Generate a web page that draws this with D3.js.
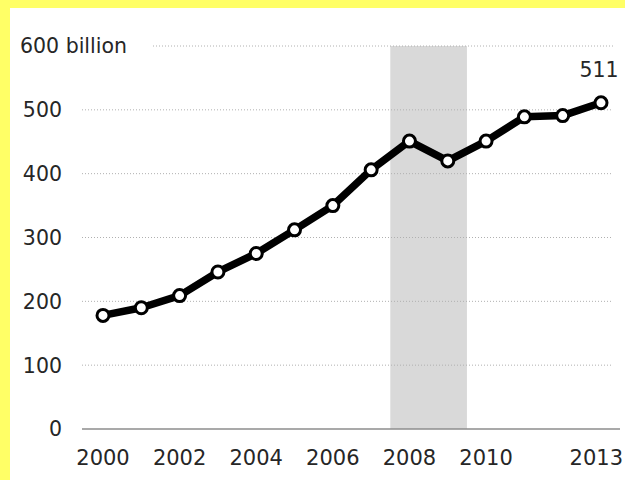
<!DOCTYPE html>
<html>
<head>
<meta charset="utf-8">
<script src="https://cdn.jsdelivr.net/npm/d3@7/dist/d3.min.js"></script>
<style>
  html, body { margin: 0; padding: 0; background: #fff; }
  svg { display: block; }
  text { font-family: "DejaVu Sans", sans-serif; fill: #262626; }
</style>
</head>
<body>
<svg id="chart" width="625" height="480"></svg>
<script>
// Annual totals, in billions
const years  = [2000, 2001, 2002, 2003, 2004, 2005, 2006, 2007, 2008, 2009, 2010, 2011, 2012, 2013];
const values = [178, 190, 209, 246, 275, 312, 350, 406, 451, 420, 451, 489, 491, 511];
const yTicks = [0, 100, 200, 300, 400, 500, 600];
const xTickYears = [2000, 2002, 2004, 2006, 2008, 2010, 2013];
const recession = [2007.5, 2009.5];
const lastLabel = "511";

const svg = d3.select("#chart");

// yellow frame along the top and left edges
svg.append("rect").attr("x", 0).attr("y", 0).attr("width", 625).attr("height", 8).attr("fill", "#ffff66");
svg.append("rect").attr("x", 0).attr("y", 0).attr("width", 10).attr("height", 480).attr("fill", "#ffff66");

const x = d3.scaleLinear().domain([2000, 2013]).range([103, 601]);
const y = d3.scaleLinear().domain([0, 600]).range([429, 46]);

// shaded recession band
svg.append("rect")
  .attr("x", x(recession[0]))
  .attr("width", x(recession[1]) - x(recession[0]))
  .attr("y", y(600))
  .attr("height", y(0) - y(600))
  .attr("fill", "#d9d9d9");

// dotted gridlines
svg.append("g").selectAll("line")
  .data(yTicks.filter(d => d > 0))
  .join("line")
  .attr("x1", d => d === 600 ? 153 : 82)
  .attr("x2", 613)
  .attr("y1", d => y(d))
  .attr("y2", d => y(d))
  .attr("stroke", "#b0b0b0")
  .attr("stroke-width", 1)
  .attr("stroke-dasharray", "1,2");

// baseline
svg.append("line")
  .attr("x1", 82).attr("x2", 620)
  .attr("y1", y(0)).attr("y2", y(0))
  .attr("stroke", "#8c8c8c")
  .attr("stroke-width", 1.5);

// y tick labels
svg.append("g").selectAll("text")
  .data(yTicks)
  .join("text")
  .attr("x", d => d === 600 ? 20 : 62)
  .attr("y", d => y(d))
  .attr("dy", "0.36em")
  .attr("text-anchor", d => d === 600 ? "start" : "end")
  .attr("font-size", 20.5)
  .text(d => d === 600 ? d + " billion" : d);

// x tick labels; the last one is right-aligned so it stays inside the frame
const lastYear = xTickYears[xTickYears.length - 1];
svg.append("g").selectAll("text")
  .data(xTickYears)
  .join("text")
  .attr("x", d => d === lastYear ? 623 : x(d))
  .attr("y", 465)
  .attr("text-anchor", d => d === lastYear ? "end" : "middle")
  .attr("font-size", 21)
  .text(d => d);

const data = years.map((yr, i) => ({ yr, v: values[i] }));

// line
svg.append("path")
  .datum(data)
  .attr("fill", "none")
  .attr("stroke", "#000")
  .attr("stroke-width", 7.5)
  .attr("stroke-linejoin", "round")
  .attr("d", d3.line().x(d => x(d.yr)).y(d => y(d.v)));

// markers
svg.append("g").selectAll("circle")
  .data(data)
  .join("circle")
  .attr("cx", d => x(d.yr))
  .attr("cy", d => y(d.v))
  .attr("r", 6)
  .attr("fill", "#fff")
  .attr("stroke", "#000")
  .attr("stroke-width", 3);

// end value label
const last = data[data.length - 1];
svg.append("text")
  .attr("x", x(last.yr) - 2)
  .attr("y", y(last.v) - 26)
  .attr("text-anchor", "middle")
  .attr("font-size", 20.5)
  .text(lastLabel);
</script>
</body>
</html>
